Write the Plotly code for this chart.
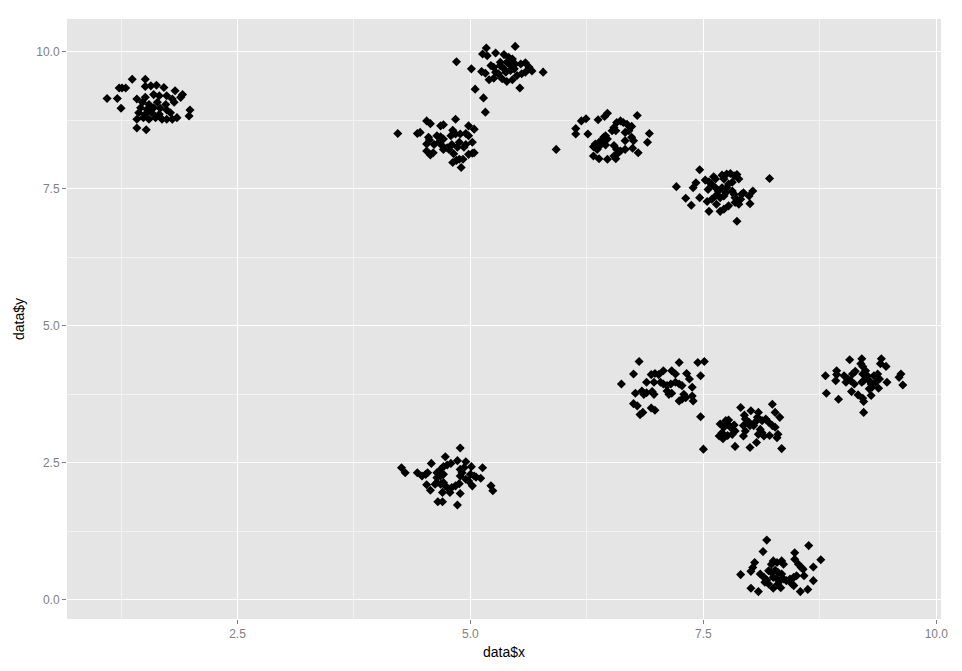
import plotly.graph_objects as go

# points, one list of (x, y) per cluster
cluster_1 = [(1.37, 9.50), (1.51, 9.50), (1.23, 9.34), (1.26, 9.34), (1.30, 9.34), (1.51, 9.37),
             (1.57, 9.38), (1.63, 9.39), (1.71, 9.35), (1.83, 9.29), (1.91, 9.22), (1.10, 9.15),
             (1.21, 9.15), (1.42, 9.14), (1.51, 9.17), (1.60, 9.22), (1.66, 9.20), (1.74, 9.20),
             (1.80, 9.14), (1.89, 9.17), (1.48, 9.08), (1.55, 9.04), (1.64, 9.08), (1.73, 9.04),
             (1.82, 9.08), (1.25, 8.97), (1.46, 8.98), (1.53, 8.95), (1.60, 8.98), (1.67, 8.97),
             (1.74, 8.94), (1.99, 8.94), (1.44, 8.89), (1.51, 8.86), (1.58, 8.89), (1.66, 8.86),
             (1.78, 8.89), (1.42, 8.77), (1.49, 8.80), (1.55, 8.77), (1.62, 8.80), (1.69, 8.77),
             (1.74, 8.77), (1.80, 8.77), (1.85, 8.80), (1.98, 8.83), (1.42, 8.61), (1.52, 8.58)]

cluster_2 = [(4.84, 8.77), (4.53, 8.74), (4.57, 8.69), (4.68, 8.65), (4.71, 8.67), (4.98, 8.65),
             (5.04, 8.59), (4.22, 8.51), (4.43, 8.51), (4.46, 8.53), (4.81, 8.57), (4.89, 8.50),
             (4.95, 8.51), (4.98, 8.47), (4.55, 8.44), (4.56, 8.39), (4.64, 8.47), (4.68, 8.45),
             (4.71, 8.41), (4.79, 8.47), (4.84, 8.50), (4.53, 8.32), (4.61, 8.31), (4.66, 8.35),
             (4.70, 8.28), (4.75, 8.25), (4.80, 8.31), (4.88, 8.35), (5.02, 8.35), (4.53, 8.19),
             (4.57, 8.12), (4.60, 8.16), (4.71, 8.22), (4.77, 8.22), (4.82, 8.14), (4.86, 8.26),
             (4.93, 8.26), (4.95, 8.31), (4.98, 8.13), (5.02, 8.15), (5.04, 8.16), (4.81, 7.98),
             (4.85, 8.02), (4.88, 8.04), (4.92, 8.04), (4.90, 7.89)]

cluster_3 = [(5.17, 10.07), (5.48, 10.10), (5.13, 9.96), (5.18, 9.93), (5.27, 9.98), (5.36, 9.95),
             (5.41, 9.90), (5.45, 9.87), (4.85, 9.82), (5.22, 9.75), (5.25, 9.72), (5.32, 9.81),
             (5.32, 9.75), (5.36, 9.69), (5.39, 9.81), (5.43, 9.75), (5.47, 9.69), (5.48, 9.78),
             (5.54, 9.78), (5.59, 9.80), (5.63, 9.72), (5.66, 9.65), (5.01, 9.69), (5.12, 9.64),
             (5.16, 9.61), (5.27, 9.63), (5.30, 9.60), (5.38, 9.63), (5.43, 9.66), (5.50, 9.57),
             (5.55, 9.60), (5.59, 9.63), (5.20, 9.49), (5.25, 9.52), (5.34, 9.51), (5.39, 9.46),
             (5.45, 9.49), (5.78, 9.63), (5.53, 9.34), (5.05, 9.32), (5.14, 9.16), (5.16, 8.90)]

cluster_4 = [(6.79, 8.84), (6.44, 8.82), (6.47, 8.88), (6.19, 8.74), (6.24, 8.78), (6.37, 8.76),
             (6.57, 8.71), (6.61, 8.74), (6.64, 8.71), (6.68, 8.68), (6.73, 8.64), (6.54, 8.62),
             (6.56, 8.56), (6.52, 8.56), (6.13, 8.60), (6.13, 8.50), (6.26, 8.50), (6.66, 8.53),
             (6.70, 8.56), (6.92, 8.51), (6.45, 8.47), (6.47, 8.41), (6.43, 8.44), (6.41, 8.38),
             (6.38, 8.35), (6.34, 8.32), (6.32, 8.27), (6.39, 8.29), (6.45, 8.30), (6.66, 8.38),
             (6.73, 8.44), (6.75, 8.38), (6.90, 8.35), (5.92, 8.22), (6.36, 8.22), (6.54, 8.29),
             (6.57, 8.22), (6.61, 8.19), (6.66, 8.22), (6.74, 8.24), (6.80, 8.16), (6.32, 8.10),
             (6.38, 8.05), (6.47, 8.04), (6.54, 8.10), (6.57, 8.13), (6.56, 8.05)]

cluster_5 = [(7.46, 7.85), (8.21, 7.69), (7.21, 7.54), (7.39, 7.52), (7.42, 7.61), (7.52, 7.66),
             (7.56, 7.63), (7.61, 7.72), (7.63, 7.68), (7.70, 7.75), (7.72, 7.68), (7.75, 7.77),
             (7.79, 7.78), (7.83, 7.74), (7.86, 7.76), (7.88, 7.68), (7.81, 7.62), (7.77, 7.59),
             (7.75, 7.52), (7.55, 7.49), (7.59, 7.58), (7.63, 7.52), (7.66, 7.46), (7.63, 7.37),
             (7.59, 7.31), (7.70, 7.52), (7.74, 7.43), (7.72, 7.37), (7.68, 7.34), (7.81, 7.46),
             (7.83, 7.40), (7.84, 7.34), (7.86, 7.28), (7.90, 7.31), (7.91, 7.40), (7.93, 7.43),
             (7.88, 7.22), (7.84, 7.25), (8.03, 7.46), (7.99, 7.37), (7.31, 7.33), (7.46, 7.34),
             (7.37, 7.20), (7.54, 7.27), (7.64, 7.22), (8.00, 7.23), (7.56, 7.09), (7.68, 7.09),
             (7.72, 7.13), (7.77, 7.19), (7.86, 6.91)]

cluster_6 = [(6.81, 4.35), (7.24, 4.33), (7.44, 4.33), (7.51, 4.35), (6.75, 4.12), (6.94, 4.11),
             (6.98, 4.13), (7.02, 4.11), (7.07, 4.18), (7.16, 4.18), (7.20, 4.12), (7.32, 4.13),
             (7.35, 4.03), (7.47, 4.09), (6.62, 3.94), (6.89, 3.97), (6.97, 3.97), (7.04, 3.97),
             (7.07, 3.94), (7.11, 3.91), (7.15, 3.94), (7.20, 3.97), (7.24, 3.94), (7.27, 3.91),
             (7.38, 3.88), (6.77, 3.77), (6.84, 3.81), (6.86, 3.75), (6.89, 3.78), (6.95, 3.80),
             (6.97, 3.75), (7.11, 3.81), (7.13, 3.75), (7.16, 3.77), (7.29, 3.75), (7.31, 3.69),
             (7.27, 3.66), (7.24, 3.63), (7.38, 3.72), (7.39, 3.63), (6.75, 3.58), (6.79, 3.54),
             (6.94, 3.50), (6.98, 3.46), (6.85, 3.42), (6.82, 3.38), (7.47, 3.34)]

cluster_7 = [(7.50, 2.75), (7.90, 3.51), (8.01, 3.45), (8.24, 3.57), (8.27, 3.42), (8.32, 3.33),
             (8.09, 3.42), (8.08, 3.33), (8.06, 3.25), (8.04, 3.18), (7.94, 3.37), (7.95, 3.30),
             (7.74, 3.27), (7.77, 3.28), (7.76, 3.21), (7.68, 3.21), (7.72, 3.15), (7.70, 3.05),
             (7.67, 2.99), (7.71, 2.94), (7.79, 3.15), (7.83, 3.19), (7.84, 3.08), (7.81, 3.02),
             (7.76, 3.00), (7.93, 3.18), (7.95, 3.08), (7.93, 2.99), (7.99, 3.24), (8.00, 3.18),
             (8.13, 3.27), (8.17, 3.30), (8.20, 3.24), (8.24, 3.18), (8.27, 3.15), (8.11, 3.11),
             (8.13, 3.05), (8.15, 2.99), (8.09, 3.02), (8.21, 3.00), (8.30, 3.02), (8.29, 2.96),
             (7.84, 2.80), (8.00, 2.78), (8.07, 2.87), (8.34, 2.76)]

cluster_8 = [(9.07, 4.38), (9.20, 4.40), (9.19, 4.31), (9.21, 4.26), (9.41, 4.40), (9.40, 4.31),
             (9.46, 4.26), (8.81, 4.09), (8.93, 4.18), (8.93, 4.11), (8.92, 4.00), (9.01, 4.09),
             (9.05, 4.03), (9.03, 3.97), (9.10, 4.12), (9.13, 4.17), (9.08, 4.00), (9.12, 3.94),
             (9.21, 4.12), (9.24, 4.18), (9.26, 4.09), (9.22, 4.00), (9.20, 3.97), (9.28, 4.00),
             (9.30, 3.94), (9.28, 3.85), (9.31, 3.88), (9.33, 4.09), (9.37, 4.12), (9.39, 4.03),
             (9.35, 3.97), (9.38, 3.86), (9.47, 3.97), (9.60, 4.06), (9.62, 4.12), (9.64, 3.92),
             (8.82, 3.77), (8.95, 3.66), (9.09, 3.80), (9.16, 3.74), (9.21, 3.68), (9.22, 3.62),
             (9.30, 3.73), (9.22, 3.42)]

cluster_9 = [(4.89, 2.77), (4.73, 2.61), (4.86, 2.54), (4.95, 2.52), (4.58, 2.49), (4.79, 2.49),
             (4.26, 2.41), (4.30, 2.32), (4.43, 2.32), (4.48, 2.26), (4.52, 2.29), (4.54, 2.32),
             (4.64, 2.32), (4.68, 2.38), (4.71, 2.43), (4.75, 2.46), (4.64, 2.23), (4.68, 2.26),
             (4.71, 2.29), (5.01, 2.43), (5.13, 2.41), (4.89, 2.38), (4.91, 2.32), (4.89, 2.26),
             (4.93, 2.41), (5.00, 2.29), (5.04, 2.26), (5.06, 2.24), (5.11, 2.22), (4.95, 2.20),
             (4.98, 2.17), (5.02, 2.08), (4.53, 2.10), (4.57, 2.00), (4.62, 2.11), (4.64, 2.14),
             (4.68, 2.11), (4.71, 2.14), (4.73, 2.08), (4.70, 1.96), (4.77, 2.02), (4.80, 2.05),
             (4.84, 2.08), (4.88, 2.12), (4.78, 1.96), (4.89, 1.94), (5.22, 2.08), (5.24, 1.99),
             (4.65, 1.79), (4.70, 1.79), (4.86, 1.73)]

cluster_10 = [(8.18, 1.09), (8.63, 0.99), (8.14, 0.88), (8.48, 0.86), (8.76, 0.73), (8.05, 0.68),
              (8.03, 0.59), (8.25, 0.71), (8.23, 0.65), (8.29, 0.68), (8.34, 0.71), (8.36, 0.65),
              (8.48, 0.74), (8.52, 0.65), (8.55, 0.59), (8.57, 0.56), (8.68, 0.60), (7.90, 0.46),
              (8.01, 0.52), (8.11, 0.47), (8.15, 0.41), (8.18, 0.36), (8.20, 0.29), (8.16, 0.32),
              (8.20, 0.53), (8.23, 0.50), (8.27, 0.54), (8.30, 0.50), (8.34, 0.47), (8.25, 0.41),
              (8.29, 0.38), (8.32, 0.35), (8.36, 0.38), (8.30, 0.29), (8.39, 0.35), (8.43, 0.38),
              (8.47, 0.41), (8.50, 0.44), (8.58, 0.44), (8.45, 0.29), (8.47, 0.26), (8.68, 0.35),
              (8.01, 0.21), (8.09, 0.15), (8.25, 0.21), (8.33, 0.22), (8.54, 0.15), (8.62, 0.19)]

clusters = [cluster_1, cluster_2, cluster_3, cluster_4, cluster_5,
            cluster_6, cluster_7, cluster_8, cluster_9, cluster_10]

x_ticks = [2.5, 5.0, 7.5, 10.0]
x_labels = ['2.5', '5.0', '7.5', '10.0']
y_ticks = [0.0, 2.5, 5.0, 7.5, 10.0]
y_labels = ['0.0', '2.5', '5.0', '7.5', '10.0']

xs = [p[0] for c in clusters for p in c]
ys = [p[1] for c in clusters for p in c]

fig = go.Figure()
fig.add_trace(go.Scatter(x=xs, y=ys, mode='markers',
                         marker=dict(symbol='diamond', size=7, color='black', line=dict(width=0)),
                         showlegend=False))

axis_style = dict(
    showgrid=True, gridcolor='white', gridwidth=1.1,
    minor=dict(tick0=1.25, dtick=2.5, showgrid=True, gridcolor='#F2F2F2', gridwidth=0.5, ticks=''),
    ticks='outside', ticklen=4, tickwidth=1, tickcolor='#7F7F7F',
    tickfont=dict(family='Liberation Sans, Arial', size=12, color='#7F7F7F'),
    zeroline=False, showline=False,
)

# page body adds ~7px offset, so margins are trimmed on the top/left
fig.update_layout(
    width=962, height=671,
    margin=dict(l=59, r=29, t=11, b=60),
    plot_bgcolor='#E5E5E5', paper_bgcolor='white',
    font=dict(family='Liberation Sans, Arial', color='black'),
    xaxis=dict(range=[0.67, 10.05], tickvals=x_ticks, ticktext=x_labels,
               title=dict(text='data$x', font=dict(size=14, color='black'), standoff=6),
               **axis_style),
    yaxis=dict(range=[-0.35, 10.6], tickvals=y_ticks, ticktext=y_labels,
               title=dict(text='data$y', font=dict(size=14, color='black'), standoff=8),
               **axis_style),
)

fig.write_html("out.html")
